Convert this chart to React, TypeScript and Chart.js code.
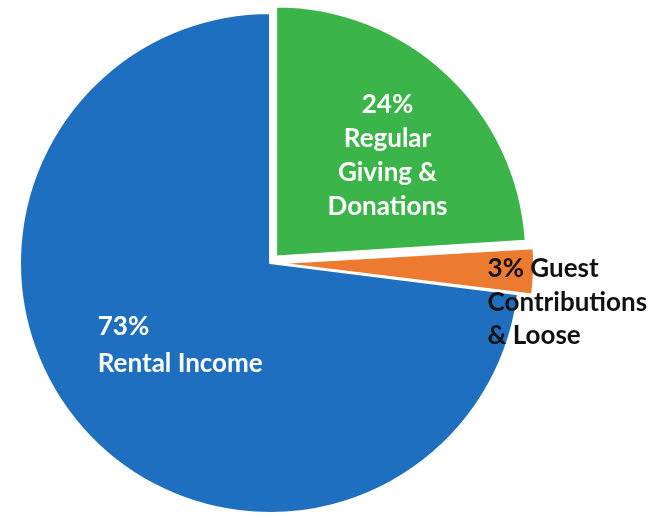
import React, { useEffect, useRef } from "react";
import { Chart, registerables } from "chart.js";

Chart.register(...registerables);

const categories = ["Regular Giving & Donations", "Guest Contributions & Loose", "Rental Income"];
const shares = [24, 3, 73];
const sliceLabels = [
  ["24%", "Regular", "Giving &", "Donations"],
  ["3% Guest", "Contributions", "& Loose"],
  ["73%", "Rental Income"],
];
const sliceColors = ["#3bb54a", "#ec7a2f", "#1f6fc1"];
// Chart.js draws offset/4 (scaled up for thin slices)
const sliceOffsets = [36, 31, 0];

// label styling per slice: radial fraction, nudge, alignment, colour, line height
const labelStyles = [
  { f: 0.64, dx: 8, dy: 9, align: "center", color: "#ffffff", lh: 34 },
  { f: 1.19, dx: 0, dy: 30, align: "left", color: "#111111", lh: 33.5 },
  { f: 0.5, dx: 4, dy: -1, align: "left", color: "#ffffff", lh: 37 },
];

const FONT = "bold 26px Lato, 'Open Sans', sans-serif";

const labelPlugin = {
  id: "sliceLabels",
  afterDatasetsDraw(chart: any) {
    const ctx = chart.ctx;
    const meta = chart.getDatasetMeta(0);
    ctx.save();
    ctx.font = FONT;
    ctx.textBaseline = "middle";
    meta.data.forEach((arc: any, i: number) => {
      const st = labelStyles[i];
      const lines = sliceLabels[i];
      const { x, y, startAngle, endAngle, outerRadius } = arc.getProps(
        ["x", "y", "startAngle", "endAngle", "outerRadius"],
        true
      );
      const mid = (startAngle + endAngle) / 2;
      const cx = x + Math.cos(mid) * outerRadius * st.f + st.dx;
      const cy = y + Math.sin(mid) * outerRadius * st.f + st.dy;
      const widths = lines.map((l) => ctx.measureText(l).width);
      const maxW = Math.max(...widths);
      const top = cy - ((lines.length - 1) * st.lh) / 2;
      ctx.fillStyle = st.color;
      lines.forEach((l, k) => {
        const ly = top + k * st.lh;
        if (st.align === "center") {
          ctx.textAlign = "center";
          ctx.fillText(l, cx, ly);
        } else {
          ctx.textAlign = "left";
          ctx.fillText(l, cx - maxW / 2, ly);
        }
      });
    });
    ctx.restore();
  },
};

export default function App() {
  const ref = useRef<HTMLCanvasElement | null>(null);
  useEffect(() => {
    if (!ref.current) return;
    const chart = new Chart(ref.current, {
      type: "pie",
      data: {
        labels: categories,
        datasets: [
          {
            data: shares,
            backgroundColor: sliceColors,
            borderColor: "#ffffff",
            borderWidth: 2,
            offset: sliceOffsets,
          },
        ],
      },
      options: {
        responsive: false,
        animation: false,
        radius: 250,
        layout: { padding: { left: 0, right: 122, top: 8, bottom: 0 } },
        plugins: {
          legend: { display: false },
          tooltip: { enabled: false },
        },
      } as any,
      plugins: [labelPlugin],
    });
    return () => chart.destroy();
  }, []);
  return (
    <div style={{ position: "absolute", left: 0, top: 0, width: 662, height: 518, background: "#ffffff" }}>
      <canvas ref={ref} width={662} height={518} />
    </div>
  );
}
